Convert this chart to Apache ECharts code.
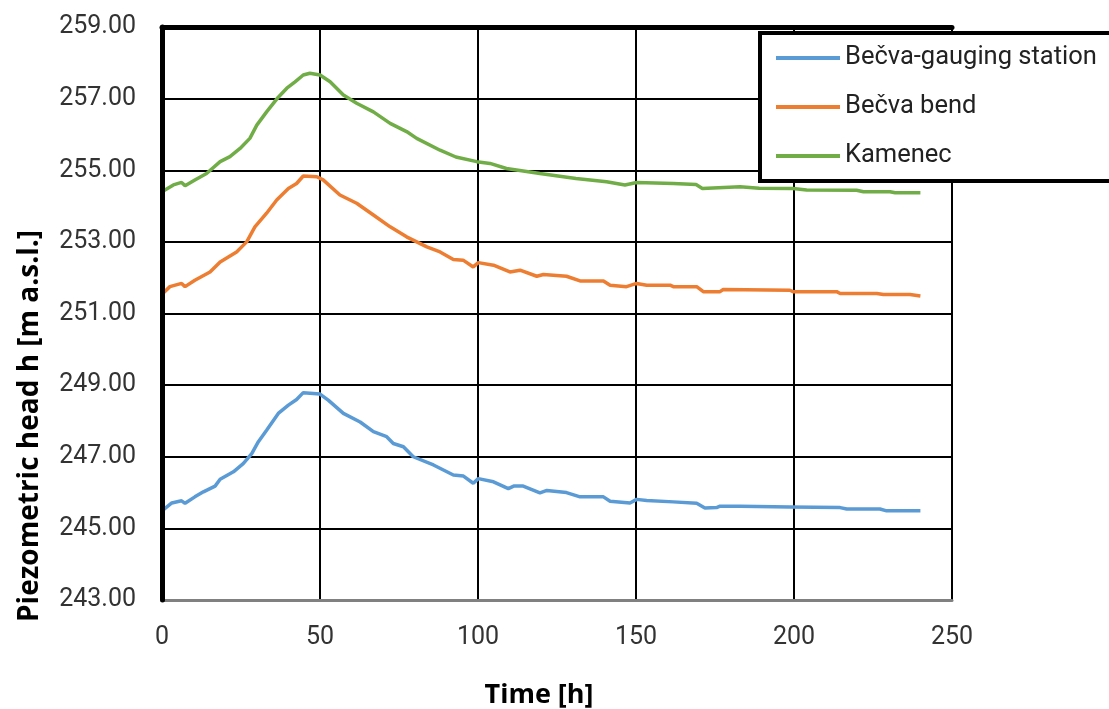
<!DOCTYPE html>
<html><head><meta charset="utf-8">
<script src="https://cdn.jsdelivr.net/npm/echarts@6/dist/echarts.min.js"></script>
<style>html,body{margin:0;padding:0;background:#fff}#c{width:1109px;height:709px}</style>
</head><body><div id="c"></div>
<script>
const seriesNames = ['Bečva-gauging station', 'Bečva bend', 'Kamenec'];
const xTicks = [0, 50, 100, 150, 200, 250];
const yTicks = [243, 245, 247, 249, 251, 253, 255, 257, 259];

const gaugingT = [0,3.1,6.2,7.3,10.4,13.1,16.8,18.4,22.6,25.7,28.4,30.5,33.1,36.8,40,42.6,44.7,50,52.6,57.4,62.7,66.9,71.1,73.2,76.4,79.5,85.9,92.2,95.4,98.5,100.1,104.9,109.6,111.3,114.3,119.6,121.8,128,132.3,139.7,141.8,148.1,150.2,153.4,161.8,169.2,171.8,175.5,176.6,183,198.7,214.6,216.7,227.2,229.3,240];
const gaugingH = [245.49,245.71,245.77,245.70,245.88,246.02,246.18,246.37,246.58,246.81,247.09,247.42,247.74,248.21,248.44,248.60,248.79,248.75,248.58,248.21,247.97,247.70,247.56,247.37,247.28,247.00,246.77,246.49,246.46,246.26,246.39,246.30,246.11,246.18,246.18,245.99,246.06,246.00,245.88,245.88,245.76,245.71,245.81,245.78,245.74,245.70,245.57,245.58,245.62,245.62,245.60,245.58,245.54,245.54,245.49,245.49];

const bendT = [0,2.5,6.2,7.3,10.4,15.2,18.4,23.6,26.8,29.4,33.1,36.3,40,42.6,44.7,49,51,56.3,61.6,66.9,72.2,77.4,83.8,88,92.2,95.3,98.5,100.1,104.9,110.1,113.3,118.6,120.7,128,132.3,139.7,141.8,147,150.2,153.4,160.8,161.8,169.2,171.3,176.6,177.6,198.7,199.7,213.5,214.6,226.2,228.3,236.7,240];
const bendH = [251.54,251.75,251.84,251.75,251.93,252.16,252.44,252.72,253.00,253.42,253.80,254.17,254.49,254.63,254.84,254.82,254.73,254.31,254.08,253.75,253.42,253.14,252.86,252.72,252.51,252.49,252.30,252.42,252.35,252.16,252.21,252.04,252.09,252.04,251.91,251.91,251.79,251.75,251.84,251.79,251.79,251.75,251.75,251.61,251.61,251.67,251.65,251.61,251.61,251.56,251.56,251.53,251.53,251.49];

const kamenecT = [0,3.6,6.2,7.3,10.4,14.1,18.4,21.5,24.7,27.8,30,33.1,36.8,39.5,42.1,44.7,46.8,50,53.2,57.4,61.6,66.9,72.2,77.4,80.6,88,93,99.6,103.8,109,119.6,131,140.7,146.5,150.2,161.8,169,171,182.9,189,199.7,204,219.8,222,230.4,232,240];
const kamenecH = [254.40,254.59,254.66,254.57,254.73,254.91,255.24,255.38,255.61,255.89,256.26,256.63,257.04,257.29,257.47,257.66,257.71,257.66,257.47,257.10,256.87,256.63,256.31,256.08,255.89,255.56,255.37,255.24,255.19,255.05,254.91,254.77,254.68,254.59,254.66,254.63,254.60,254.49,254.54,254.50,254.49,254.45,254.44,254.40,254.40,254.37,254.37];

const colors = ['#5B9BD5', '#ED7D31', '#70AD47'];
const zip = (t, h) => t.map((x, i) => [x, h[i]]);
const datasets = [zip(gaugingT, gaugingH), zip(bendT, bendH), zip(kamenecT, kamenecH)];

const chart = echarts.init(document.getElementById('c'));
const font = 'Roboto, "Open Sans", sans-serif';
chart.setOption({
  backgroundColor: '#fff',
  animation: false,
  grid: { left: 162, right: 157, top: 27, bottom: 109 },
  xAxis: [{
    type: 'value', min: xTicks[0], max: xTicks[xTicks.length - 1], interval: 50,
    axisLine: { show: true, lineStyle: { color: '#808080', width: 3 } },
    axisTick: { show: false },
    axisLabel: { color: '#333', fontSize: 25, fontFamily: font, margin: 25 },
    splitLine: { show: true, lineStyle: { color: '#000', width: 2 } }
  }, {
    type: 'value', position: 'top', min: 0, max: 250, interval: 50,
    axisLine: { show: true, lineStyle: { color: '#000', width: 5 } },
    axisTick: { show: false }, axisLabel: { show: false }, splitLine: { show: false }, z: 5
  }],
  yAxis: [{
    type: 'value', min: yTicks[0], max: yTicks[yTicks.length - 1], interval: 2,
    axisLine: { show: true, lineStyle: { color: '#808080', width: 3 } },
    axisTick: { show: false },
    axisLabel: { color: '#333', fontSize: 25, fontFamily: font, margin: 26, formatter: v => v.toFixed(2) },
    splitLine: { show: true, lineStyle: { color: '#000', width: 2 } }
  }, {
    type: 'value', position: 'right', min: 243, max: 259, interval: 2,
    axisLine: { show: true, lineStyle: { color: '#000', width: 5 } },
    axisTick: { show: false }, axisLabel: { show: false }, splitLine: { show: false }, z: 5
  }],
  legend: {
    orient: 'vertical', left: 760, top: 33,
    data: seriesNames,
    backgroundColor: '#fff', borderColor: '#000', borderWidth: 4,
    padding: [11, 60, 11, 16],
    itemWidth: 64, itemHeight: 4, itemGap: 21, icon: 'rect',
    textStyle: { color: '#222', fontSize: 25.5, fontFamily: font, lineHeight: 28 },
    z: 10
  },
  graphic: [
    { type: 'text', x: 30, y: 426, rotation: Math.PI / 2, z: 10,
      style: { text: 'Piezometric head h [m a.s.l.]', fontSize: 28, fontWeight: 'bold', fontFamily: '"Open Sans", sans-serif', fill: '#000', align: 'center', verticalAlign: 'middle' } },
    { type: 'text', x: 539, y: 695, z: 10,
      style: { text: 'Time [h]', fontSize: 27, fontWeight: 'bold', fontFamily: '"Open Sans", sans-serif', fill: '#000', align: 'center', verticalAlign: 'middle' } }
  ],
  series: datasets.map((d, i) => ({
    name: seriesNames[i], type: 'line', data: d, showSymbol: false, symbol: 'none',
    lineStyle: { color: colors[i], width: 3.5 }, itemStyle: { color: colors[i] }, z: 3
  }))
});
</script></body></html>
